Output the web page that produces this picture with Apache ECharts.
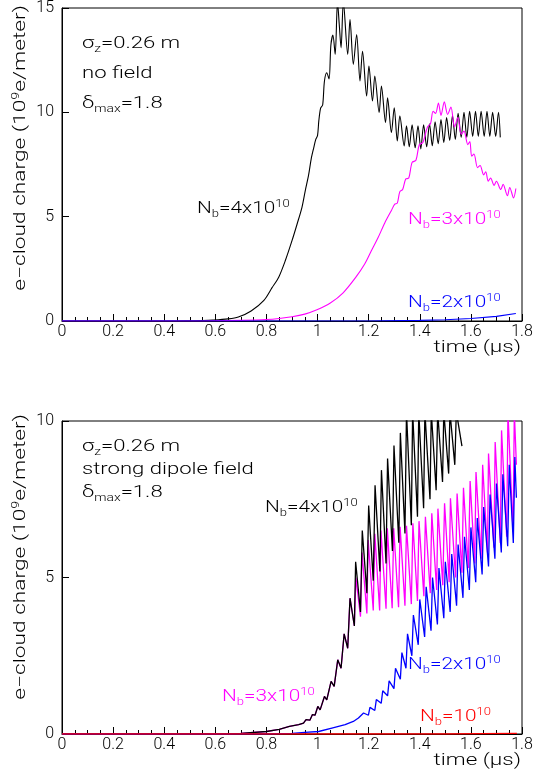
<!DOCTYPE html>
<html><head><meta charset="utf-8">
<script src="https://cdn.jsdelivr.net/npm/echarts@6/dist/echarts.min.js"></script>
<style>html,body{margin:0;padding:0;background:#fff}#c{width:542px;height:774px}</style>
</head><body><div id="c"></div>
<script>
// ---------- data (time in microseconds, charge in 10^9 e/meter) ----------
const xTicks = [0, 0.2, 0.4, 0.6, 0.8, 1, 1.2, 1.4, 1.6, 1.8];
const yTicksTop = [0, 5, 10, 15];
const yTicksBottom = [0, 5, 10];

// Top panel: no field
const topNb4 = [[0,0],[0.45,0],[0.5,0.01],[0.55,0.02],[0.59,0.04],[0.65,0.1],[0.69,0.19],[0.74,0.48],[0.79,0.99],[0.822,1.6],[0.848,2.1],[0.874,2.9],[0.9,3.85],[0.92,4.65],[0.939,5.45],[0.952,6.25],[0.965,7.0],[0.975,7.76],[0.985,8.3],[0.993,8.7],[1.0,8.9],[1.005,9.6],[1.012,10.2],[1.02,10.35],[1.027,11.5],[1.036,11.9],[1.045,11.6],[1.052,13.2],[1.06,13.7],[1.069,12.78],[1.078,15.3],[1.085,14.2],[1.092,13.09],[1.101,15.3],[1.118,12.78],[1.127,14.45],[1.14,12.3],[1.153,13.73],[1.166,11.5],[1.176,12.93],[1.192,10.78],[1.201,12.22],[1.215,10.54],[1.224,11.74],[1.241,9.99],[1.25,11.26],[1.266,9.51],[1.274,10.7],[1.289,9.03],[1.3,10.22],[1.312,8.63],[1.322,9.83],[1.339,8.39],[1.348,9.35],[1.359,8.35],[1.37,9.4],[1.382,8.3],[1.393,9.35],[1.404,8.25],[1.415,9.4],[1.427,8.35],[1.438,9.45],[1.449,8.4],[1.46,9.55],[1.472,8.5],[1.483,9.65],[1.494,8.55],[1.505,9.75],[1.517,8.65],[1.528,9.85],[1.539,8.7],[1.55,9.95],[1.562,8.8],[1.573,10.0],[1.584,8.8],[1.595,10.05],[1.607,8.85],[1.618,10.05],[1.629,8.85],[1.64,10.05],[1.652,8.85],[1.663,10.05],[1.674,8.85],[1.685,10.0],[1.697,8.85],[1.708,10.0],[1.715,8.8]];
const topNb3 = [[0,0],[0.5,0],[0.6,0.01],[0.7,0.03],[0.8,0.07],[0.85,0.12],[0.9,0.2],[0.95,0.33],[1.0,0.55],[1.05,0.86],[1.1,1.35],[1.15,2.1],[1.185,2.74],[1.21,3.35],[1.237,4.0],[1.263,4.7],[1.289,5.3],[1.302,5.6],[1.312,5.65],[1.322,6.2],[1.333,6.3],[1.345,6.8],[1.357,6.85],[1.37,7.6],[1.385,7.7],[1.398,8.45],[1.412,8.55],[1.43,9.3],[1.442,9.45],[1.452,10.05],[1.462,9.95],[1.473,10.45],[1.483,9.85],[1.496,10.5],[1.509,9.9],[1.522,10.25],[1.536,9.3],[1.549,9.75],[1.562,8.95],[1.573,9.1],[1.588,8.45],[1.596,8.6],[1.603,7.9],[1.612,8.0],[1.626,7.35],[1.636,7.45],[1.65,7.0],[1.658,7.15],[1.668,6.7],[1.677,6.85],[1.691,6.5],[1.7,6.7],[1.717,6.3],[1.726,6.55],[1.743,6.0],[1.752,6.4],[1.767,5.9],[1.776,6.35]];
const topNb2 = [[0,0],[1.2,0],[1.4,0.03],[1.5,0.06],[1.6,0.12],[1.7,0.22],[1.776,0.36]];

// Bottom panel: strong dipole field
const botNb4 = [[0,0],[0.6,0],[0.7,0.02],[0.8,0.08],[0.85,0.15],[0.89,0.24],[0.926,0.3],[0.945,0.35],[0.955,0.46],[0.97,0.44],[0.98,0.62],[0.99,0.6],[1.001,0.88],[1.01,0.77],[1.027,1.2],[1.036,1.09],[1.053,1.68],[1.065,1.52],[1.079,2.37],[1.092,2.1],[1.104,3.2],[1.118,2.74],[1.127,4.34],[1.144,3.45],[1.149,5.5],[1.168,3.9],[1.175,6.5],[1.193,4.5],[1.2,7.3],[1.218,4.9],[1.225,7.95],[1.244,5.19],[1.25,8.43],[1.268,5.45],[1.274,8.8],[1.293,5.85],[1.299,9.22],[1.318,6.11],[1.324,9.62],[1.342,6.41],[1.348,10.3],[1.367,6.67],[1.372,10.3],[1.391,6.94],[1.396,10.3],[1.415,7.21],[1.42,10.3],[1.44,7.5],[1.445,10.3],[1.464,7.79],[1.47,10.3],[1.489,8.05],[1.494,10.3],[1.513,8.32],[1.518,10.3],[1.537,8.6],[1.543,10.3],[1.565,9.2]];
const botNb3 = [[0,0],[0.6,0],[0.7,0.02],[0.8,0.08],[0.85,0.15],[0.89,0.24],[0.926,0.3],[0.945,0.35],[0.955,0.46],[0.97,0.44],[0.98,0.62],[0.99,0.6],[1.001,0.88],[1.01,0.77],[1.027,1.2],[1.036,1.09],[1.053,1.68],[1.065,1.52],[1.079,2.37],[1.092,2.1],[1.104,3.2],[1.118,2.74],[1.127,4.34],[1.144,3.45],[1.15,5.0],[1.168,3.75],[1.174,5.8],[1.193,3.85],[1.198,6.2],[1.218,3.95],[1.224,6.4],[1.243,3.95],[1.248,6.5],[1.268,4.0],[1.273,6.57],[1.292,4.02],[1.298,6.57],[1.317,4.05],[1.323,6.62],[1.342,4.1],[1.348,6.65],[1.367,4.15],[1.373,6.73],[1.391,4.25],[1.397,6.8],[1.416,4.4],[1.422,6.94],[1.441,4.5],[1.447,7.05],[1.466,4.6],[1.471,7.2],[1.49,4.75],[1.497,7.37],[1.515,4.85],[1.52,7.53],[1.54,5.0],[1.546,7.68],[1.565,5.15],[1.571,7.87],[1.59,5.3],[1.597,8.08],[1.615,5.45],[1.62,8.37],[1.64,5.6],[1.646,8.6],[1.665,5.8],[1.669,8.96],[1.69,5.95],[1.695,9.33],[1.715,6.1],[1.72,9.7],[1.74,6.3],[1.745,10.3],[1.765,6.45],[1.77,10.3],[1.778,8.6]];
const botNb2 = [[0,0],[0.8,0],[0.9,0.02],[0.95,0.05],[1.004,0.08],[1.056,0.19],[1.108,0.3],[1.14,0.4],[1.16,0.51],[1.18,0.67],[1.199,0.6],[1.205,0.85],[1.224,0.75],[1.23,1.1],[1.249,0.98],[1.255,1.38],[1.274,1.22],[1.28,1.7],[1.299,1.45],[1.305,2.1],[1.324,1.75],[1.33,2.6],[1.346,2.1],[1.352,3.2],[1.369,2.5],[1.375,3.8],[1.394,2.85],[1.4,4.3],[1.419,3.1],[1.425,4.7],[1.444,3.3],[1.45,5.0],[1.469,3.5],[1.475,5.3],[1.494,3.7],[1.5,5.5],[1.519,3.9],[1.525,5.75],[1.544,4.1],[1.55,6.05],[1.569,4.35],[1.575,6.3],[1.594,4.6],[1.6,6.6],[1.619,4.85],[1.625,6.9],[1.644,5.1],[1.65,7.25],[1.669,5.35],[1.675,7.65],[1.694,5.6],[1.7,8.0],[1.719,5.8],[1.725,8.3],[1.744,6.0],[1.75,8.6],[1.766,6.1],[1.772,8.85],[1.778,7.55]];
const botNb1 = [[0,0],[1.5,0],[1.78,0.02]];

// ---------- texts ----------
const yTitle = 'e\u2212cloud charge (10{p|9}e/meter)';
const xTitle = 'time (\u03bcs)';
const notesTop = ['\u03c3{s|z}=0.26 m', 'no field', '\u03b4{s|max}=1.8'];
const notesBottom = ['\u03c3{s|z}=0.26 m', 'strong dipole field', '\u03b4{s|max}=1.8'];
const nb4 = 'N{s|b}=4x10{p|10}';
const nb3 = 'N{s|b}=3x10{p|10}';
const nb2 = 'N{s|b}=2x10{p|10}';
const nb1 = 'N{s|b}=10{p|10}';

const F = "Roboto, 'Liberation Sans', Arial, sans-serif";
const C = {black:'#000000', mag:'#ff00ff', blue:'#0000ff', red:'#ff0000'};

function txt(x, y, text, color, opt) {
  opt = opt || {};
  const fs = opt.fs || 16;
  const sm = Math.round(fs * 0.62);
  return {
    type: 'text', x: x, y: y, rotation: opt.rot || 0,
    scaleX: opt.sx || 1.38, scaleY: 1, z: 100,
    style: {
      text: text, fill: color, font: '300 ' + fs + 'px ' + F,
      align: opt.align || 'left', verticalAlign: 'middle', lineHeight: fs + 4,
      rich: {
        s: {fontSize: sm, fontFamily: F, fontWeight: 300, fill: color, verticalAlign: 'bottom', lineHeight: sm + 1},
        p: {fontSize: sm, fontFamily: F, fontWeight: 300, fill: color, verticalAlign: 'top', lineHeight: sm + 1}
      }
    }
  };
}

function xAx(g) {
  return {
    type: 'value', gridIndex: g, min: 0, max: 1.8, interval: 0.2,
    axisLine: {show: true, onZero: false, lineStyle: {color: '#000', width: 1}},
    axisTick: {show: true, inside: true, length: 7, lineStyle: {color: '#000'}},
    minorTick: {show: true, splitNumber: 4, length: 4, lineStyle: {color: '#000'}},
    axisLabel: {color: '#000', fontFamily: 'Roboto', fontWeight: 300, fontSize: 16, margin: 3,
      formatter: v => String(xTicks.find(t => Math.abs(t - v) < 1e-9) ?? v)},
    splitLine: {show: false}, minorSplitLine: {show: false}
  };
}
function yAx(g, max, ticks) {
  return {
    type: 'value', gridIndex: g, min: 0, max: max, interval: 5,
    axisLine: {show: true, lineStyle: {color: '#000', width: 1}},
    axisTick: {show: true, inside: true, length: 7, lineStyle: {color: '#000'}},
    axisLabel: {color: '#000', fontFamily: 'Roboto', fontWeight: 300, fontSize: 16, margin: 8,
      formatter: v => String(ticks.find(t => Math.abs(t - v) < 1e-9) ?? v)},
    splitLine: {show: false}
  };
}
function line(name, g, data, color, w, smooth) {
  return {
    name: name, type: 'line', xAxisIndex: g, yAxisIndex: g, data: data,
    showSymbol: false, symbol: 'none', smooth: smooth || false, clip: true,
    lineStyle: {color: color, width: w}, itemStyle: {color: color}, z: 2
  };
}

const chart = echarts.init(document.getElementById('c'), null, {renderer: 'canvas', width: 542, height: 774});
chart.setOption({
  animation: false,
  backgroundColor: '#ffffff',
  grid: [
    {left: 62, top: 7, width: 460, height: 314, show: true, borderColor: '#000', borderWidth: 1, containLabel: false},
    {left: 62, top: 421, width: 460, height: 313, show: true, borderColor: '#000', borderWidth: 1, containLabel: false}
  ],
  xAxis: [xAx(0), xAx(1)],
  yAxis: [yAx(0, 15, yTicksTop), yAx(1, 10, yTicksBottom)],
  series: [
    line('Nb=4e10 (no field)', 0, topNb4, C.black, 1.1, 0.3),
    line('Nb=3e10 (no field)', 0, topNb3, C.mag, 1.1, 0.3),
    line('Nb=2e10 (no field)', 0, topNb2, C.blue, 1.2),
    line('Nb=3e10 (dipole)', 1, botNb3, C.mag, 1.3),
    line('Nb=4e10 (dipole)', 1, botNb4, C.black, 1.3),
    line('Nb=2e10 (dipole)', 1, botNb2, C.blue, 1.3),
    line('Nb=1e10 (dipole)', 1, botNb1, C.red, 1.4)
  ],
  graphic: [
    txt(21, 5, yTitle, '#000', {rot: Math.PI/2, align: 'right', sx: 1.42}),
    txt(21, 414, yTitle, '#000', {rot: Math.PI/2, align: 'right', sx: 1.42}),
    txt(521, 348, xTitle, '#000', {align: 'right', sx: 1.4}),
    txt(521, 761, xTitle, '#000', {align: 'right', sx: 1.4}),
    txt(82, 44, notesTop[0], '#000'),
    txt(82, 74, notesTop[1], '#000'),
    txt(82, 104, notesTop[2], '#000'),
    txt(82, 447, notesBottom[0], '#000'),
    txt(82, 470, notesBottom[1], '#000'),
    txt(82, 493, notesBottom[2], '#000'),
    txt(197, 209, nb4, C.black, {sx: 1.3}),
    txt(408, 220, nb3, C.mag, {sx: 1.3}),
    txt(408, 303, nb2, C.blue, {sx: 1.3}),
    txt(265, 508, nb4, C.black, {sx: 1.3}),
    txt(222, 697, nb3, C.mag, {sx: 1.3}),
    txt(408, 665, nb2, C.blue, {sx: 1.3}),
    txt(420, 717, nb1, C.red, {sx: 1.3})
  ]
});
</script></body></html>
